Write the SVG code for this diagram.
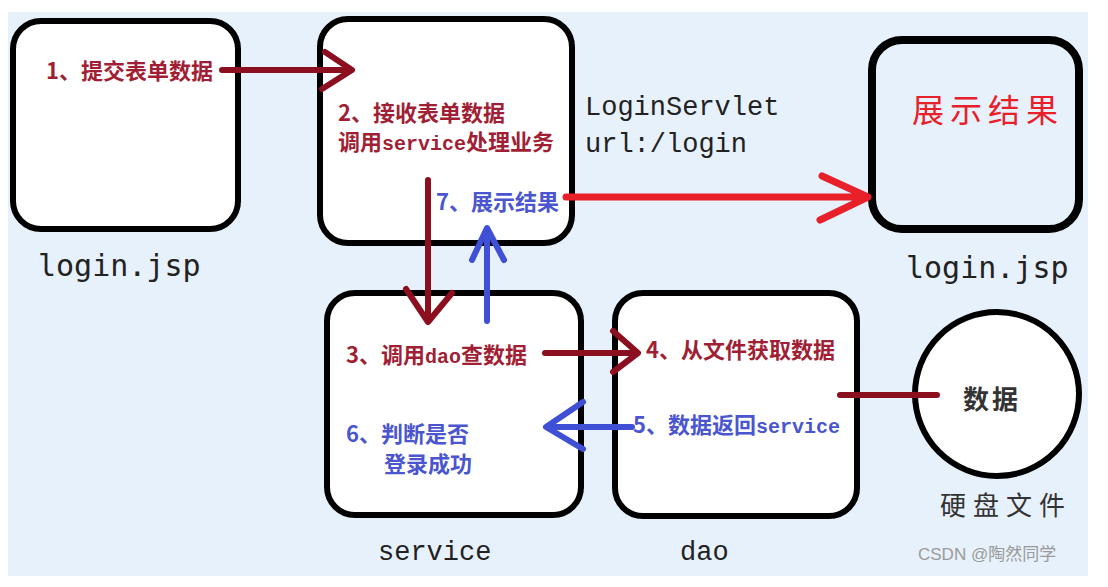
<svg xmlns="http://www.w3.org/2000/svg" width="1108" height="587" viewBox="0 0 1108 587">
<style>
.box{fill:#fff;stroke:#000;stroke-width:6}
.red{fill:#a11f35;font-family:"Noto Sans CJK SC","Noto Sans",sans-serif;font-weight:bold;font-size:22px}
.blue{fill:#4a55cf;font-family:"Noto Sans CJK SC","Noto Sans",sans-serif;font-weight:bold;font-size:22px}
.lat{font-family:"Liberation Mono",monospace;font-weight:bold;font-size:20px}
.lbl{fill:#222;font-family:"DejaVu Sans Mono",monospace;font-size:30px}
.mono{fill:#222;font-family:"Liberation Mono","Noto Sans CJK SC",monospace;font-size:27px}
.cn{fill:#333;font-family:"Noto Sans CJK SC",sans-serif;font-size:26px}
.dr{stroke:#8b0f1f;stroke-width:6;fill:none;stroke-linecap:round;stroke-linejoin:round}
.bl{stroke:#3f4fd6;stroke-width:6;fill:none;stroke-linecap:round;stroke-linejoin:round}
.rd{stroke:#e8202a;stroke-width:7;fill:none;stroke-linecap:round;stroke-linejoin:round}
</style>
<rect x="0" y="0" width="1108" height="587" fill="#fff"/>
<rect x="8" y="12" width="1080" height="564" fill="#e7f1fb"/>

<g id="login-jsp">
<rect class="box" x="13" y="21" width="225" height="208" rx="28"/>
<text class="lbl" x="38" y="276">login.jsp</text>
</g>

<g id="loginservlet">
<rect class="box" x="320" y="19" width="252" height="224" rx="28"/>
<text class="red" x="338" y="121">2、接收表单数据</text>
<text class="red" x="338" y="150">调用<tspan class="lat">service</tspan>处理业务</text>
<text class="blue" x="436" y="210">7、展示结果</text>
<text class="mono" x="585" y="115">LoginServlet</text>
<text class="mono" x="585" y="152">url:/login</text>
</g>

<g id="result-jsp">
<rect x="872" y="40" width="207" height="189" rx="30" fill="#e7f1fb" stroke="#000" stroke-width="8"/>
<text x="912" y="122" fill="#e8202a" font-family="Noto Sans CJK SC,sans-serif" font-size="32" letter-spacing="6">展示结果</text>
<text class="lbl" x="906" y="278">login.jsp</text>
</g>

<g id="service">
<rect class="box" x="327" y="293" width="254" height="222" rx="28"/>
<text class="red" x="346" y="363">3、调用<tspan class="lat">dao</tspan>查数据</text>
<text class="blue" x="346" y="442">6、判断是否</text>
<text class="blue" x="384" y="472">登录成功</text>
<text class="mono" x="378" y="560">service</text>
</g>

<g id="dao">
<rect class="box" x="615" y="293" width="242" height="223" rx="28"/>
<text class="red" x="646" y="358">4、从文件获取数据</text>
<text class="blue" x="633" y="433">5、数据返回<tspan class="lat">service</tspan></text>
<text class="mono" x="680" y="560">dao</text>
</g>

<g id="disk">
<circle cx="997" cy="394" r="82" fill="#fff" stroke="#000" stroke-width="6"/>
<text class="cn" x="992" y="409" text-anchor="middle" font-weight="bold" letter-spacing="3">数据</text>
<text class="cn" x="940" y="515" letter-spacing="7">硬盘文件</text>
</g>

<g id="step1">
<text class="red" x="46" y="79">1、提交表单数据</text>
</g>

<g id="connectors">
<path class="dr" d="M222 70 H350 M325 52 L352 70 L322 89"/>
<path class="dr" d="M428 180 V321 M406 289 L428 322 L452 293"/>
<path class="bl" d="M487 321 V230 M472 260 L487 228 L504 260"/>
<path class="rd" d="M566 197 H866 M822 176 L868 197 L820 220"/>
<path class="dr" d="M545 353 H636 M613 331 L638 353 L613 372"/>
<path class="bl" d="M632 427 H548 M583 402 L546 427 L583 449"/>
<path class="dr" d="M840 395 H937"/>
</g>

<text x="918" y="560" fill="#9a9a9a" font-family="Liberation Sans,Noto Sans CJK SC,sans-serif" font-size="17">CSDN @陶然同学</text>
</svg>
